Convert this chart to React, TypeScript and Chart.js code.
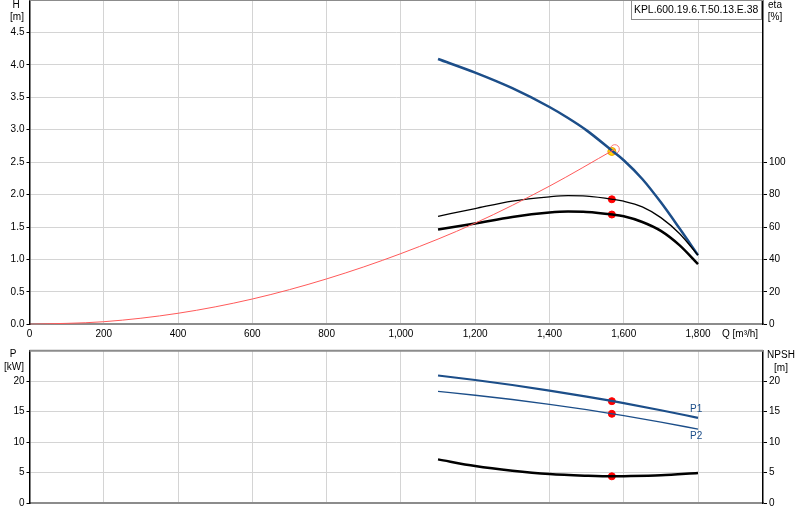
import React, { useRef, useEffect } from 'react';
import { Chart, registerables } from 'chart.js';

Chart.register(...registerables);

// Flow rates [m³/h] and readings for each curve
const pumpQ = [1100, 1200, 1300, 1400, 1450, 1500, 1570, 1600, 1650, 1700, 1750, 1800];
const headH = [4.09, 3.88, 3.64, 3.35, 3.18, 2.99, 2.67, 2.53, 2.24, 1.88, 1.48, 1.066];
const etaPump = [66.6, 71.4, 76.0, 78.6, 79.3, 79.0, 77.1, 75.9, 72.4, 65.8, 56.0, 42.6];
const etaTotal = [58.4, 62.2, 66.2, 68.9, 69.5, 69.3, 67.7, 66.6, 63.1, 57.6, 48.8, 37.1];

const systemQ = [0, 200, 400, 600, 800, 1000, 1200, 1400, 1576];
const systemH = [0, 0.04, 0.17, 0.39, 0.7, 1.09, 1.56, 2.13, 2.7];

const powerQ = [1100, 1200, 1300, 1400, 1500, 1570, 1600, 1700, 1800];
const powerP1 = [20.93, 20.19, 19.37, 18.46, 17.47, 16.72, 16.39, 15.23, 13.98];
const powerP2 = [18.31, 17.69, 16.99, 16.19, 15.31, 14.64, 14.34, 13.28, 12.13];
const npsh = [7.16, 6.07, 5.3, 4.75, 4.48, 4.38, 4.4, 4.54, 4.92];

const dutyQ = 1568;
const dutyH = 2.665;
const dutyEtaPump = 77.1;
const dutyEtaTotal = 67.7;
const dutyP1 = 16.72;
const dutyP2 = 14.64;
const dutyNpsh = 4.38;

const qTicks = [0, 200, 400, 600, 800, 1000, 1200, 1400, 1600, 1800];
const productName = 'KPL.600.19.6.T.50.13.E.38';

const FONT = 'Liberation Sans, Arial, sans-serif';
const BLUE = '#1c4e89';
const GRID = '#d4d4d4';
const FRAME = '#8c8c8c';

const pts = (xs: number[], ys: number[]) => xs.map((x, i) => ({ x, y: ys[i] }));

// draws the top frame line, axis titles, curve labels and the product box
const overlay = {
  id: 'overlay',
  afterDraw(chart: any, _args: any, opts: any) {
    const { ctx, chartArea, scales } = chart;
    ctx.save();
    ctx.strokeStyle = FRAME;
    ctx.lineWidth = 2;
    ctx.beginPath();
    ctx.moveTo(chartArea.left, chartArea.top);
    ctx.lineTo(chartArea.right, chartArea.top);
    ctx.stroke();

    ctx.font = `10px ${FONT}`;
    ctx.textBaseline = 'middle';
    (opts.labels || []).forEach((l: any) => {
      ctx.fillStyle = l.color || '#000';
      ctx.textAlign = l.align || 'center';
      ctx.fillText(l.text, l.x, l.y);
    });

    (opts.curveLabels || []).forEach((l: any) => {
      const x = scales.x.getPixelForValue(l.q);
      const y = scales.y.getPixelForValue(l.v) + l.dy;
      ctx.fillStyle = BLUE;
      ctx.textAlign = 'center';
      ctx.fillText(l.text, x, y);
    });

    if (opts.box) {
      const b = opts.box;
      ctx.fillStyle = '#fff';
      ctx.fillRect(b.x, b.y, b.w, b.h);
      ctx.strokeStyle = FRAME;
      ctx.lineWidth = 1;
      ctx.strokeRect(b.x + 0.5, b.y + 0.5, b.w, b.h);
      ctx.fillStyle = '#000';
      ctx.textAlign = 'left';
      ctx.font = `10.4px ${FONT}`;
      ctx.fillText(b.text, b.x + 3, b.y + b.h / 2 + 1);
    }
    ctx.restore();
  },
};

const xScale = (showLabels: boolean, height: number) => ({
  type: 'linear',
  min: 0,
  max: 1975,
  afterBuildTicks: (s: any) => {
    s.ticks = qTicks.map((v) => ({ value: v }));
  },
  afterFit: (s: any) => {
    s.height = height;
    s.paddingLeft = 0;
    s.paddingRight = 0;
  },
  grid: { color: GRID, drawTicks: false },
  border: { color: FRAME, width: 2 },
  ticks: {
    display: showLabels,
    padding: 4,
    color: '#000',
    maxRotation: 0,
    autoSkip: false,
    font: { family: FONT, size: 10 },
  },
});

const yScale = (max: number, step: number, showMax: number, side: 'left' | 'right', digits: number) => ({
  type: 'linear',
  position: side,
  min: 0,
  max,
  afterBuildTicks: (s: any) => {
    s.ticks = s.ticks.filter((t: any) => t.value <= showMax + 1e-6);
  },
  afterFit: (s: any) => {
    s.width = side === 'left' ? 29.5 : 37;
    s.paddingTop = 0;
    s.paddingBottom = 0;
  },
  grid: {
    color: GRID,
    drawOnChartArea: side === 'left',
    tickLength: side === 'left' ? 3 : 4,
    tickColor: '#000',
  },
  border: { color: '#000', width: 1.5 },
  ticks: {
    stepSize: step,
    padding: 2,
    color: '#000',
    font: { family: FONT, size: 10 },
    callback: (v: any) => Number(v).toFixed(digits),
  },
});

const App: React.FC = () => {
  const topRef = useRef<HTMLCanvasElement | null>(null);
  const bottomRef = useRef<HTMLCanvasElement | null>(null);

  useEffect(() => {
    if (!topRef.current || !bottomRef.current) return;

    const top = new Chart(topRef.current, {
      type: 'line',
      data: {
        datasets: [
          {
            data: pts(systemQ, systemH),
            yAxisID: 'y',
            borderColor: '#ff5a5a',
            borderWidth: 1,
            pointRadius: 0,
            cubicInterpolationMode: 'monotone',
          },
          {
            data: pts(pumpQ, etaPump),
            yAxisID: 'y2',
            borderColor: '#000',
            borderWidth: 1.3,
            pointRadius: 0,
            cubicInterpolationMode: 'monotone',
          },
          {
            data: pts(pumpQ, etaTotal),
            yAxisID: 'y2',
            borderColor: '#000',
            borderWidth: 2.5,
            pointRadius: 0,
            cubicInterpolationMode: 'monotone',
          },
          {
            data: pts(pumpQ, headH),
            yAxisID: 'y',
            borderColor: BLUE,
            borderWidth: 2.5,
            pointRadius: 0,
            cubicInterpolationMode: 'monotone',
          },
          {
            data: [{ x: dutyQ, y: dutyEtaPump }, { x: dutyQ, y: dutyEtaTotal }],
            yAxisID: 'y2',
            showLine: false,
            pointRadius: 3.5,
            pointBackgroundColor: '#ff0000',
            pointBorderColor: '#ff0000',
          },
          {
            data: [{ x: systemQ[systemQ.length - 1], y: systemH[systemH.length - 1] }],
            yAxisID: 'y',
            showLine: false,
            pointRadius: 4.5,
            pointBackgroundColor: 'rgba(0,0,0,0)',
            pointBorderColor: '#ff7a7a',
            pointBorderWidth: 1,
          },
          {
            data: [{ x: dutyQ, y: dutyH }],
            yAxisID: 'y',
            showLine: false,
            pointRadius: 4,
            pointBackgroundColor: '#ffe000',
            pointBorderColor: '#e8a000',
            pointBorderWidth: 1,
          },
        ],
      },
      options: {
        responsive: true,
        maintainAspectRatio: false,
        animation: false,
        layout: { padding: 0, autoPadding: false },
        plugins: {
          legend: { display: false },
          tooltip: { enabled: false },
          overlay: {
            labels: [
              { text: 'H', x: 16, y: 5 },
              { text: '[m]', x: 17, y: 17 },
              { text: 'eta', x: 775, y: 5 },
              { text: '[%]', x: 775, y: 17 },
              { text: 'Q [m³/h]', x: 722, y: 334, align: 'left' },
            ],
            box: { x: 631, y: 0, w: 130, h: 19, text: productName },
          },
        } as any,
        scales: {
          x: xScale(true, 20.7),
          y: yScale(5, 0.5, 4.5, 'left', 1),
          y2: yScale(200, 20, 100, 'right', 0),
        } as any,
      },
      plugins: [overlay],
    } as any);

    const bottom = new Chart(bottomRef.current, {
      type: 'line',
      data: {
        datasets: [
          {
            data: pts(powerQ, powerP1),
            yAxisID: 'y',
            borderColor: BLUE,
            borderWidth: 2.2,
            pointRadius: 0,
            cubicInterpolationMode: 'monotone',
          },
          {
            data: pts(powerQ, powerP2),
            yAxisID: 'y',
            borderColor: BLUE,
            borderWidth: 1.3,
            pointRadius: 0,
            cubicInterpolationMode: 'monotone',
          },
          {
            data: pts(powerQ, npsh),
            yAxisID: 'y2',
            borderColor: '#000',
            borderWidth: 2.5,
            pointRadius: 0,
            cubicInterpolationMode: 'monotone',
          },
          {
            data: [{ x: dutyQ, y: dutyP1 }, { x: dutyQ, y: dutyP2 }],
            yAxisID: 'y',
            showLine: false,
            pointRadius: 3.5,
            pointBackgroundColor: '#ff0000',
            pointBorderColor: '#ff0000',
          },
          {
            data: [{ x: dutyQ, y: dutyNpsh }],
            yAxisID: 'y2',
            showLine: false,
            pointRadius: 3.5,
            pointBackgroundColor: '#ff0000',
            pointBorderColor: '#ff0000',
          },
        ],
      },
      options: {
        responsive: true,
        maintainAspectRatio: false,
        animation: false,
        layout: { padding: { top: 5.7, left: 0, right: 0, bottom: 0 }, autoPadding: false },
        plugins: {
          legend: { display: false },
          tooltip: { enabled: false },
          overlay: {
            labels: [
              { text: 'P', x: 13, y: 354 - 345 },
              { text: '[kW]', x: 14, y: 367 - 345 },
              { text: 'NPSH', x: 781, y: 355 - 345 },
              { text: '[m]', x: 781, y: 368 - 345 },
            ],
            curveLabels: [
              { text: 'P1', q: 1795, v: powerP1[powerP1.length - 1], dy: -9 },
              { text: 'P2', q: 1795, v: powerP2[powerP2.length - 1], dy: 7 },
            ],
          },
        } as any,
        scales: {
          x: xScale(false, 17),
          y: yScale(25, 5, 20, 'left', 0),
          y2: yScale(25, 5, 20, 'right', 0),
        } as any,
      },
      plugins: [overlay],
    } as any);

    return () => {
      top.destroy();
      bottom.destroy();
    };
  }, []);

  return (
    <div style={{ position: 'fixed', left: 0, top: 0, width: 800, height: 520, background: '#fff' }}>
      <div style={{ position: 'absolute', left: 0, top: 0, width: 800, height: 345 }}>
        <canvas ref={topRef}></canvas>
      </div>
      <div style={{ position: 'absolute', left: 0, top: 345, width: 800, height: 175 }}>
        <canvas ref={bottomRef}></canvas>
      </div>
    </div>
  );
};

export default App;
